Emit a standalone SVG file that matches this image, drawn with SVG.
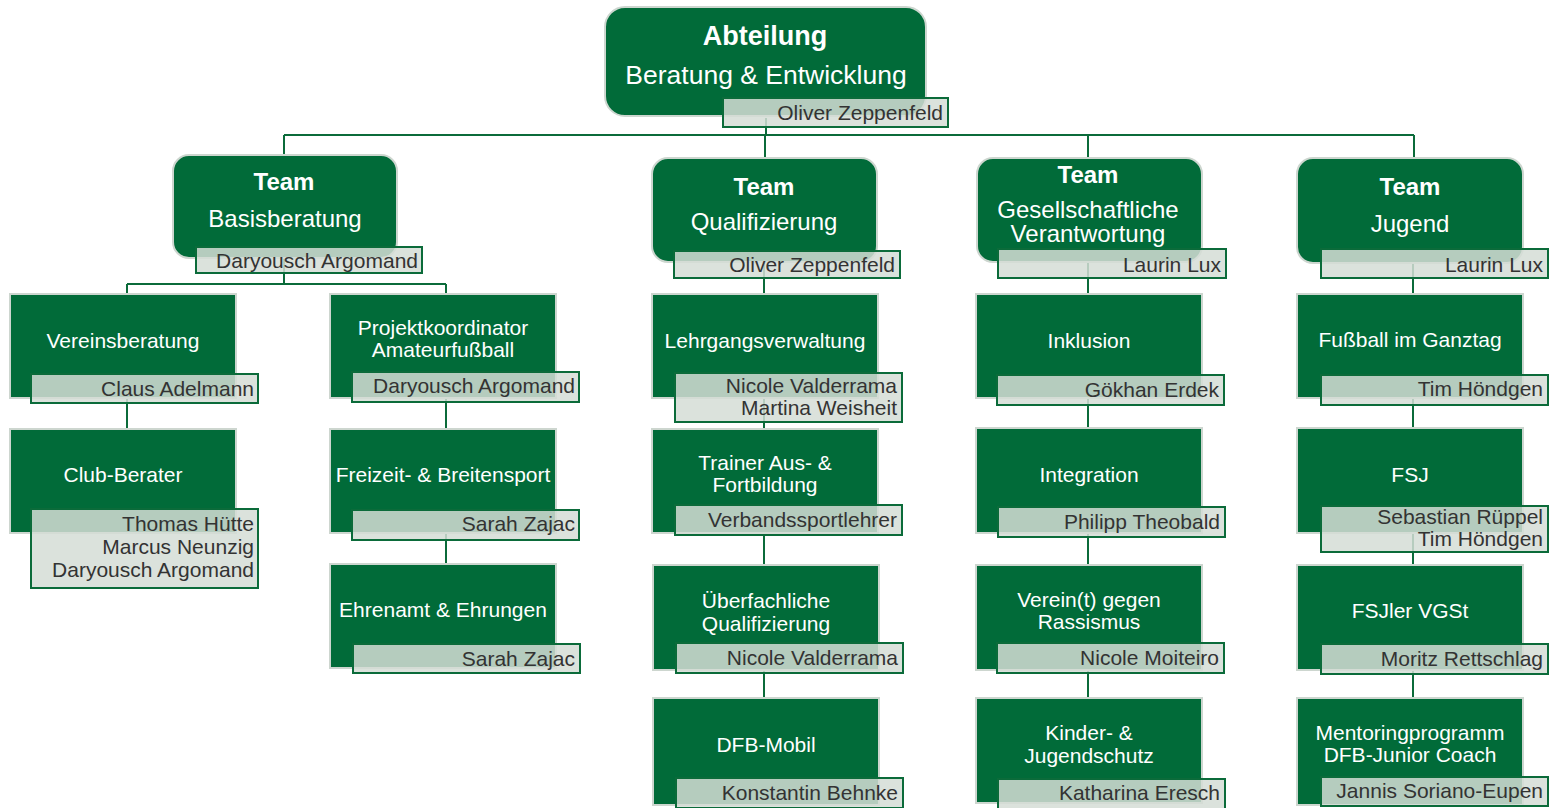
<svg xmlns="http://www.w3.org/2000/svg" width="1551" height="808" viewBox="0 0 1551 808">
<style>
.g{fill:#016b39;stroke:#cdd6cf;stroke-width:2}
.n{fill:#d5ddd6;fill-opacity:0.85;stroke:#0b6b3a;stroke-width:2}
.c{stroke:#0b6b3a;stroke-width:2;fill:none}
text{font-family:"Liberation Sans",Arial,sans-serif}
.t{fill:#ffffff;font-size:21px;text-anchor:middle}
.tb{fill:#ffffff;font-size:24px;font-weight:bold;text-anchor:middle}
.tt{fill:#ffffff;font-size:24px;text-anchor:middle}
.nm{fill:#333333;font-size:21px;text-anchor:end}
</style>
<rect width="1551" height="808" fill="#ffffff"/>
<g id="connectors">
<path class="c" d="M766 118V135M284 135H1414M284 135V160M765 135V160M1088 135V160M1414 135V160"/>
<path class="c" d="M284 258V284M127 284H446M127 284V430M446 284V565"/>
<path class="c" d="M764 262V700M1088 262V700M1413 262V700"/>
</g>
<g id="n-abteilung">
<rect class="g" x="605" y="7" width="321" height="109" rx="20"/>
<text x="765" y="45" class="tb" style="font-size:27px">Abteilung</text>
<text x="766" y="84" class="tt" style="font-size:26.5px">Beratung &amp; Entwicklung</text>
<rect class="n" x="723" y="98" width="225" height="29"/>
<text x="943" y="120" class="nm">Oliver Zeppenfeld</text>
</g>
<g id="n-basisberatung">
<rect class="g" x="173" y="155" width="224" height="103" rx="16"/>
<text x="284" y="190" class="tb">Team</text>
<text x="285" y="227" class="tt">Basisberatung</text>
<rect class="n" x="196" y="247" width="226" height="26"/>
<text x="418" y="268" class="nm">Daryousch Argomand</text>
</g>
<g id="n-qualifizierung">
<rect class="g" x="652" y="158" width="225" height="104" rx="16"/>
<text x="764" y="195" class="tb">Team</text>
<text x="764" y="230" class="tt">Qualifizierung</text>
<rect class="n" x="674" y="251" width="226" height="27"/>
<text x="895" y="272" class="nm">Oliver Zeppenfeld</text>
</g>
<g id="n-gesellschaft">
<rect class="g" x="977" y="158" width="225" height="104" rx="16"/>
<text x="1088" y="183" class="tb">Team</text>
<text x="1088" y="218" class="tt">Gesellschaftliche</text>
<text x="1088" y="242" class="tt">Verantwortung</text>
<rect class="n" x="998" y="249" width="228" height="29"/>
<text x="1221" y="272" class="nm">Laurin Lux</text>
</g>
<g id="n-jugend">
<rect class="g" x="1297" y="158" width="226" height="105" rx="16"/>
<text x="1410" y="195" class="tb">Team</text>
<text x="1410" y="232" class="tt">Jugend</text>
<rect class="n" x="1321" y="249" width="227" height="29"/>
<text x="1543" y="272" class="nm">Laurin Lux</text>
</g>
<g id="n-vereinsberatung">
<rect class="g" x="10" y="294" width="226" height="104"/>
<text x="123" y="348" class="t">Vereinsberatung</text>
<rect class="n" x="31" y="374" width="227" height="29"/>
<text x="254" y="396" class="nm">Claus Adelmann</text>
</g>
<g id="n-clubberater">
<rect class="g" x="10" y="429" width="226" height="104"/>
<text x="123" y="482" class="t">Club-Berater</text>
<rect class="n" x="31" y="509" width="227" height="79"/>
<text x="254" y="531" class="nm">Thomas Hütte</text>
<text x="254" y="554" class="nm">Marcus Neunzig</text>
<text x="254" y="577" class="nm">Daryousch Argomand</text>
</g>
<g id="n-projekt">
<rect class="g" x="330" y="294" width="226" height="104"/>
<text x="443" y="335" class="t">Projektkoordinator</text>
<text x="443" y="357" class="t">Amateurfußball</text>
<rect class="n" x="352" y="372" width="227" height="30"/>
<text x="575" y="393" class="nm">Daryousch Argomand</text>
</g>
<g id="n-freizeit">
<rect class="g" x="330" y="429" width="226" height="104"/>
<text x="443" y="482" class="t">Freizeit- &amp; Breitensport</text>
<rect class="n" x="352" y="510" width="227" height="30"/>
<text x="575" y="531" class="nm">Sarah Zajac</text>
</g>
<g id="n-ehrenamt">
<rect class="g" x="330" y="564" width="226" height="104"/>
<text x="443" y="617" class="t">Ehrenamt &amp; Ehrungen</text>
<rect class="n" x="353" y="644" width="227" height="29"/>
<text x="575" y="666" class="nm">Sarah Zajac</text>
</g>
<g id="n-lehrgang">
<rect class="g" x="652" y="294" width="226" height="104"/>
<text x="765" y="348" class="t">Lehrgangsverwaltung</text>
<rect class="n" x="675" y="373" width="227" height="49"/>
<text x="897" y="393" class="nm">Nicole Valderrama</text>
<text x="897" y="415" class="nm">Martina Weisheit</text>
</g>
<g id="n-trainer">
<rect class="g" x="652" y="429" width="226" height="104"/>
<text x="765" y="470" class="t">Trainer Aus- &amp;</text>
<text x="765" y="492" class="t">Fortbildung</text>
<rect class="n" x="675" y="505" width="227" height="30"/>
<text x="897" y="527" class="nm">Verbandssportlehrer</text>
</g>
<g id="n-ueberfachlich">
<rect class="g" x="653" y="565" width="226" height="105"/>
<text x="766" y="608" class="t">Überfachliche</text>
<text x="766" y="631" class="t">Qualifizierung</text>
<rect class="n" x="676" y="643" width="227" height="30"/>
<text x="898" y="665" class="nm">Nicole Valderrama</text>
</g>
<g id="n-dfbmobil">
<rect class="g" x="653" y="698" width="226" height="107"/>
<text x="766" y="752" class="t">DFB-Mobil</text>
<rect class="n" x="676" y="778" width="227" height="30"/>
<text x="898" y="800" class="nm">Konstantin Behnke</text>
</g>
<g id="n-inklusion">
<rect class="g" x="976" y="294" width="226" height="104"/>
<text x="1089" y="348" class="t">Inklusion</text>
<rect class="n" x="997" y="375" width="227" height="30"/>
<text x="1219" y="397" class="nm">Gökhan Erdek</text>
</g>
<g id="n-integration">
<rect class="g" x="976" y="428" width="226" height="105"/>
<text x="1089" y="482" class="t">Integration</text>
<rect class="n" x="998" y="507" width="227" height="30"/>
<text x="1220" y="529" class="nm">Philipp Theobald</text>
</g>
<g id="n-rassismus">
<rect class="g" x="976" y="565" width="226" height="105"/>
<text x="1089" y="607" class="t">Verein(t) gegen</text>
<text x="1089" y="629" class="t">Rassismus</text>
<rect class="n" x="997" y="643" width="227" height="30"/>
<text x="1219" y="665" class="nm">Nicole Moiteiro</text>
</g>
<g id="n-kinderschutz">
<rect class="g" x="976" y="698" width="226" height="105"/>
<text x="1089" y="740" class="t">Kinder- &amp;</text>
<text x="1089" y="763" class="t">Jugendschutz</text>
<rect class="n" x="998" y="779" width="227" height="30"/>
<text x="1220" y="800" class="nm">Katharina Eresch</text>
</g>
<g id="n-ganztag">
<rect class="g" x="1297" y="294" width="226" height="104"/>
<text x="1410" y="347" class="t">Fußball im Ganztag</text>
<rect class="n" x="1321" y="375" width="227" height="30"/>
<text x="1543" y="396" class="nm">Tim Höndgen</text>
</g>
<g id="n-fsj">
<rect class="g" x="1297" y="428" width="226" height="105"/>
<text x="1410" y="482" class="t">FSJ</text>
<rect class="n" x="1321" y="506" width="227" height="46"/>
<text x="1543" y="524" class="nm">Sebastian Rüppel</text>
<text x="1543" y="546" class="nm">Tim Höndgen</text>
</g>
<g id="n-fsjler">
<rect class="g" x="1297" y="565" width="226" height="105"/>
<text x="1410" y="618" class="t">FSJler VGSt</text>
<rect class="n" x="1321" y="644" width="227" height="30"/>
<text x="1543" y="666" class="nm">Moritz Rettschlag</text>
</g>
<g id="n-mentoring">
<rect class="g" x="1297" y="698" width="226" height="107"/>
<text x="1410" y="740" class="t">Mentoringprogramm</text>
<text x="1410" y="762" class="t">DFB-Junior Coach</text>
<rect class="n" x="1321" y="777" width="227" height="29"/>
<text x="1543" y="798" class="nm">Jannis Soriano-Eupen</text>
</g>
</svg>
